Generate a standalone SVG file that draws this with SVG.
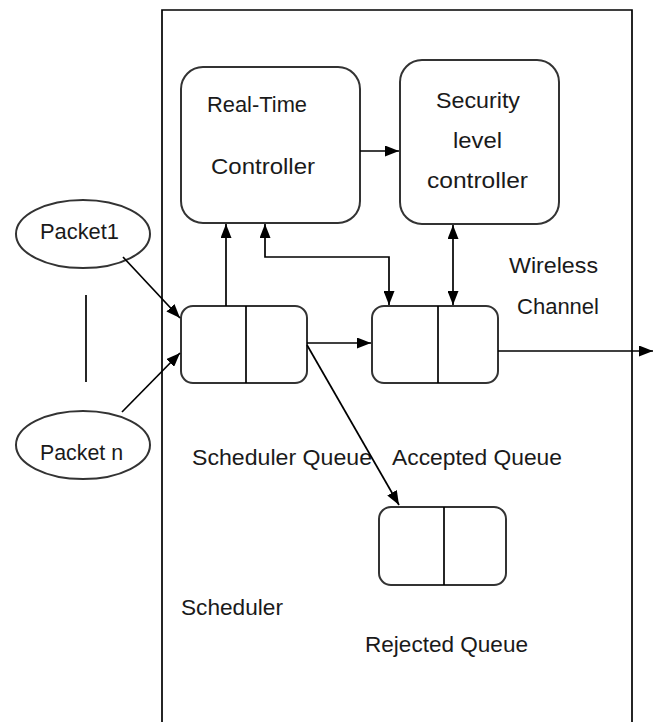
<svg xmlns="http://www.w3.org/2000/svg" width="654" height="722" viewBox="0 0 654 722">
  <style>
    .box { fill: #ffffff; stroke: #333333; stroke-width: 2; }
    .wire { fill: none; stroke: #000000; stroke-width: 1.7; }
    .lbl { font-family: "Liberation Sans", Arial, sans-serif; font-size: 22px; fill: #1a1a1a; }
  </style>
  <defs>
    <marker id="arrow" viewBox="0 0 14 11" refX="14" refY="5.5" markerWidth="14" markerHeight="11" markerUnits="userSpaceOnUse" orient="auto-start-reverse">
      <path d="M0,0 L14,5.5 L0,11 Z" fill="#000000"/>
    </marker>
  </defs>
  <rect width="654" height="722" fill="#ffffff"/>

  <!-- scheduler boundary (open at the bottom) -->
  <g id="scheduler">
    <path class="wire" d="M162,722 L162,10 L632,10 L632,722"/>
    <text class="lbl" x="181" y="615" textLength="102" lengthAdjust="spacingAndGlyphs">Scheduler</text>
  </g>

  <g id="packet1">
    <ellipse class="box" cx="83" cy="234" rx="67" ry="34" stroke-width="1.6"/>
    <text class="lbl" x="40" y="239" textLength="79" lengthAdjust="spacingAndGlyphs">Packet1</text>
  </g>

  <g id="packetn">
    <ellipse class="box" cx="83" cy="445" rx="67" ry="34" stroke-width="1.6"/>
    <text class="lbl" x="40" y="460" textLength="83" lengthAdjust="spacingAndGlyphs">Packet n</text>
  </g>

  <!-- ellipsis between packets -->
  <line class="wire" x1="86" y1="295" x2="86" y2="382"/>

  <g id="rt-controller">
    <rect class="box" x="181" y="67" width="179" height="156" rx="22"/>
    <text class="lbl" x="207" y="112" textLength="100" lengthAdjust="spacingAndGlyphs">Real-Time</text>
    <text class="lbl" x="211" y="174" textLength="104" lengthAdjust="spacingAndGlyphs">Controller</text>
  </g>

  <g id="security-controller">
    <rect class="box" x="400" y="60" width="159" height="164" rx="22"/>
    <text class="lbl" x="436" y="108" textLength="84" lengthAdjust="spacingAndGlyphs">Security</text>
    <text class="lbl" x="453" y="148" textLength="49" lengthAdjust="spacingAndGlyphs">level</text>
    <text class="lbl" x="427" y="188" textLength="101" lengthAdjust="spacingAndGlyphs">controller</text>
  </g>

  <g id="scheduler-queue">
    <rect class="box" x="181" y="306" width="126" height="77" rx="12"/>
    <line class="wire" x1="246" y1="306" x2="246" y2="383"/>
    <text class="lbl" x="192" y="465" textLength="180" lengthAdjust="spacingAndGlyphs">Scheduler Queue</text>
  </g>

  <g id="accepted-queue">
    <rect class="box" x="372" y="306" width="126" height="77" rx="12"/>
    <line class="wire" x1="438" y1="306" x2="438" y2="383"/>
    <text class="lbl" x="392" y="465" textLength="170" lengthAdjust="spacingAndGlyphs">Accepted Queue</text>
  </g>

  <g id="rejected-queue">
    <rect class="box" x="379" y="507" width="127" height="78" rx="12"/>
    <line class="wire" x1="444" y1="507" x2="444" y2="585"/>
    <text class="lbl" x="365" y="652" textLength="163" lengthAdjust="spacingAndGlyphs">Rejected Queue</text>
  </g>

  <g id="wireless-channel">
    <text class="lbl" x="509" y="273" textLength="89" lengthAdjust="spacingAndGlyphs">Wireless</text>
    <text class="lbl" x="517" y="314" textLength="82" lengthAdjust="spacingAndGlyphs">Channel</text>
  </g>

  <g id="connectors">
    <line class="wire" x1="123" y1="257" x2="180" y2="318" marker-end="url(#arrow)"/>
    <line class="wire" x1="122" y1="412" x2="180" y2="353" marker-end="url(#arrow)"/>
    <line class="wire" x1="226" y1="306" x2="226" y2="224" marker-end="url(#arrow)"/>
    <polyline class="wire" points="265,224 265,257 389,257 389,305" marker-start="url(#arrow)" marker-end="url(#arrow)"/>
    <line class="wire" x1="360" y1="151" x2="399" y2="151" marker-end="url(#arrow)"/>
    <line class="wire" x1="453" y1="225" x2="453" y2="305" marker-start="url(#arrow)" marker-end="url(#arrow)"/>
    <line class="wire" x1="307" y1="343" x2="371" y2="343" marker-end="url(#arrow)"/>
    <line class="wire" x1="498" y1="351" x2="653" y2="351" marker-end="url(#arrow)"/>
    <line class="wire" x1="307" y1="345" x2="399" y2="505" marker-end="url(#arrow)"/>
  </g>
</svg>
